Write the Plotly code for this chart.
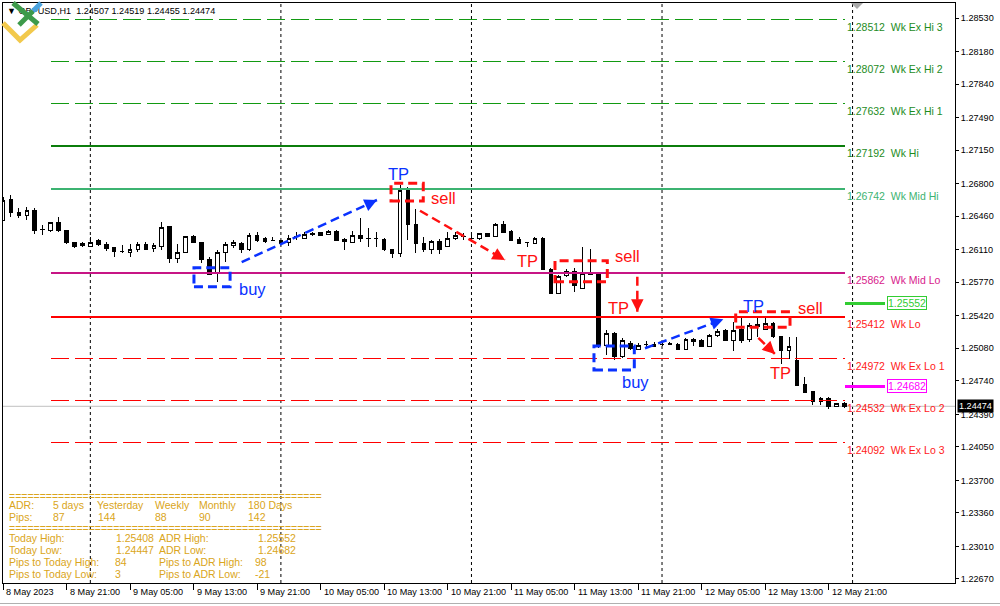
import math
import pandas as pd
import plotly.graph_objects as go

# ---------------- DATA ----------------
bar_times = pd.date_range("2023-05-08 13:00", periods=107, freq="h")

open_ = [1.26420, 1.26639, 1.26503, 1.26467, 1.26524, 1.26326, 1.26310, 1.26399, 1.26315, 1.26187,
         1.26151, 1.26141, 1.26211, 1.26169, 1.26131, 1.26091, 1.26079, 1.26114, 1.26169, 1.26124,
         1.26141, 1.26350, 1.26020, 1.26083, 1.26253, 1.26187, 1.26012, 1.25863, 1.26083, 1.26151,
         1.26176, 1.26107, 1.26263, 1.26228, 1.26204, 1.26204, 1.26180, 1.26253, 1.26228, 1.26270,
         1.26287, 1.26270, 1.26305, 1.26221, 1.26187, 1.26263, 1.26228, 1.26228, 1.26221, 1.26107,
         1.26072, 1.26733, 1.26375, 1.26176, 1.26114, 1.26200, 1.26141, 1.26228, 1.26253, 1.26228,
         1.26228, 1.26274, 1.26253, 1.26368, 1.26298, 1.26221, 1.26187, 1.26176, 1.26228, 1.25905,
         1.25654, 1.25838, 1.25887, 1.25707, 1.25856, 1.25856, 1.25114, 1.25236, 1.24992, 1.25132,
         1.25069, 1.25124, 1.25124, 1.25124, 1.25124, 1.25124, 1.25069, 1.25173, 1.25166, 1.25096,
         1.25218, 1.25264, 1.25166, 1.25278, 1.25173, 1.25330, 1.25281, 1.25341, 1.25200, 1.25054,
         1.24957, 1.24703, 1.24626, 1.24522, 1.24557, 1.24477, 1.24507]
high = [1.26660, 1.26681, 1.26545, 1.26556, 1.26545, 1.26368, 1.26402, 1.26448, 1.26320, 1.26193,
        1.26193, 1.26245, 1.26218, 1.26187, 1.26141, 1.26159, 1.26166, 1.26193, 1.26193, 1.26176,
        1.26402, 1.26361, 1.26166, 1.26258, 1.26263, 1.26193, 1.26037, 1.26107, 1.26193, 1.26211,
        1.26193, 1.26281, 1.26298, 1.26239, 1.26245, 1.26211, 1.26263, 1.26290, 1.26298, 1.26291,
        1.26298, 1.26315, 1.26315, 1.26235, 1.26305, 1.26444, 1.26333, 1.26298, 1.26228, 1.26117,
        1.26786, 1.26768, 1.26532, 1.26245, 1.26211, 1.26218, 1.26298, 1.26298, 1.26281, 1.26263,
        1.26281, 1.26281, 1.26385, 1.26410, 1.26315, 1.26245, 1.26193, 1.26239, 1.26239, 1.25915,
        1.25846, 1.25905, 1.25922, 1.26141, 1.26117, 1.25863, 1.25271, 1.25253, 1.25184, 1.25159,
        1.25132, 1.25159, 1.25148, 1.25148, 1.25145, 1.25132, 1.25184, 1.25190, 1.25173, 1.25226,
        1.25278, 1.25278, 1.25358, 1.25408, 1.25347, 1.25405, 1.25404, 1.25358, 1.25208, 1.25200,
        1.25200, 1.24783, 1.24634, 1.24574, 1.24574, 1.24511, 1.24519]
low = [1.26410, 1.26451, 1.26441, 1.26420, 1.26274, 1.26263, 1.26298, 1.26298, 1.26166, 1.26124,
       1.26141, 1.26134, 1.26148, 1.26099, 1.26037, 1.26072, 1.26037, 1.26089, 1.26107, 1.26089,
       1.26107, 1.25968, 1.25968, 1.26079, 1.26176, 1.25968, 1.25845, 1.25775, 1.25984, 1.26124,
       1.26072, 1.26099, 1.26193, 1.26183, 1.26200, 1.26169, 1.26148, 1.26211, 1.26221, 1.26253,
       1.26256, 1.26263, 1.26204, 1.26107, 1.26176, 1.26193, 1.26141, 1.26141, 1.26096, 1.26020,
       1.26037, 1.26211, 1.26072, 1.26089, 1.26061, 1.26061, 1.26134, 1.26211, 1.26211, 1.26193,
       1.26211, 1.26239, 1.26245, 1.26281, 1.26204, 1.26166, 1.26141, 1.26169, 1.25898, 1.25650,
       1.25650, 1.25828, 1.25671, 1.25700, 1.25845, 1.25080, 1.25010, 1.24957, 1.24975, 1.25062,
       1.25062, 1.25090, 1.25090, 1.25103, 1.25114, 1.25066, 1.25062, 1.25103, 1.25096, 1.25090,
       1.25200, 1.25159, 1.25051, 1.25132, 1.25148, 1.25200, 1.25271, 1.25184, 1.24916, 1.24965,
       1.24693, 1.24609, 1.24487, 1.24487, 1.24447, 1.24470, 1.24455]
close = [1.26629, 1.26503, 1.26467, 1.26524, 1.26315, 1.26320, 1.26392, 1.26310, 1.26187, 1.26148,
         1.26176, 1.26187, 1.26166, 1.26124, 1.26096, 1.26089, 1.26117, 1.26166, 1.26117, 1.26151,
         1.26344, 1.26020, 1.26083, 1.26253, 1.26187, 1.26012, 1.25856, 1.26083, 1.26159, 1.26183,
         1.26107, 1.26263, 1.26211, 1.26193, 1.26203, 1.26176, 1.26227, 1.26248, 1.26270, 1.26274,
         1.26263, 1.26305, 1.26211, 1.26193, 1.26263, 1.26228, 1.26227, 1.26231, 1.26107, 1.26072,
         1.26733, 1.26368, 1.26176, 1.26107, 1.26193, 1.26114, 1.26228, 1.26263, 1.26252, 1.26227,
         1.26274, 1.26245, 1.26368, 1.26287, 1.26211, 1.26176, 1.26186, 1.26228, 1.25905, 1.25654,
         1.25828, 1.25880, 1.25731, 1.25863, 1.25853, 1.25114, 1.25236, 1.24992, 1.25166, 1.25080,
         1.25114, 1.25123, 1.25103, 1.25123, 1.25129, 1.25069, 1.25173, 1.25148, 1.25103, 1.25211,
         1.25253, 1.25166, 1.25271, 1.25166, 1.25323, 1.25305, 1.25341, 1.25200, 1.25054, 1.25103,
         1.24696, 1.24616, 1.24529, 1.24557, 1.24470, 1.24505, 1.24474]

x_tick_idx = [0, 8, 16, 24, 32, 40, 48, 56, 64, 72, 80, 88, 96, 104]
x_tick_labels = ["8 May 2023", "8 May 21:00", "9 May 05:00", "9 May 13:00", "9 May 21:00",
                 "10 May 05:00", "10 May 13:00", "10 May 21:00", "11 May 05:00", "11 May 13:00",
                 "11 May 21:00", "12 May 05:00", "12 May 13:00", "12 May 21:00"]
y_tick_vals = [1.28530, 1.28180, 1.27840, 1.27490, 1.27150, 1.26800, 1.26460, 1.26110, 1.25770,
               1.25420, 1.25080, 1.24740, 1.24390, 1.24050, 1.23700, 1.23360, 1.23010, 1.22670]

level_values = [1.28512, 1.28072, 1.27632, 1.27192, 1.26742, 1.25862, 1.25412, 1.24972, 1.24532, 1.24092]
level_names = ["Wk Ex Hi 3", "Wk Ex Hi 2", "Wk Ex Hi 1", "Wk Hi", "Wk Mid Hi",
               "Wk Mid Lo", "Wk Lo", "Wk Ex Lo 1", "Wk Ex Lo 2", "Wk Ex Lo 3"]
level_start_idx = 6
level_end_idx = 106

adr_high = 1.25552
adr_low = 1.24682
adr_headers = ["5 days", "Yesterday", "Weekly", "Monthly", "180 Days"]
adr_pips = ["87", "144", "88", "90", "142"]
today_high = 1.25408
today_low = 1.24447
pips_to_today_high = 84
pips_to_today_low = 3
pips_to_adr_high = 98
pips_to_adr_low = -21

# trade markup (bar index, price)
markup_boxes = [(24.05, 28.6, 1.25723, 1.25922, "blue"), (48.87, 52.93, 1.26618, 1.26803, "red"),
                (69.52, 76.11, 1.25776, 1.25995, "red"), (74.43, 79.51, 1.24853, 1.25104, "blue"),
                (92.28, 99.12, 1.25299, 1.25462, "red")]
markup_arrows = [(30.06, 1.25981, 47.1, 1.26629, "blue"), (52.52, 1.26517, 63.22, 1.26002, "red"),
                 (79.89, 1.25828, 79.89, 1.25462, "red"), (80.86, 1.25080, 90.72, 1.25383, "blue"),
                 (95.13, 1.25189, 97.23, 1.25020, "red")]
markup_texts = [("buy", 31.36, 1.25699, "blue"), ("TP", 49.75, 1.26900, "blue"), ("sell", 55.42, 1.26650, "red"),
                ("TP", 66.12, 1.25992, "red"), ("sell", 78.59, 1.26044, "red"), ("TP", 77.58, 1.25501, "red"),
                ("buy", 79.72, 1.24728, "blue"), ("TP", 94.46, 1.25525, "blue"), ("sell", 101.76, 1.25501, "red"),
                ("TP", 97.98, 1.24822, "red")]

# ---------------- STYLE / LAYOUT ----------------
W, H = 1000, 606
ML, MR, MT, MB = 3, 45, 3, 23
PW, PH = W - ML - MR, H - MT - MB
X_RANGE = [0, 119.9]
Y_RANGE = [1.22628, 1.28687]
PXB = PW / (X_RANGE[1] - X_RANGE[0])
PXP = PH / (Y_RANGE[1] - Y_RANGE[0])
FONT = "Liberation Sans, Arial, sans-serif"
SMALL = 9.1
GOLD = "#DAA520"
MK_COL = {"blue": "#0a32ff", "red": "#ff1010"}
level_colors = ["#129a12", "#129a12", "#129a12", "#0b7d0b", "#3cb371",
                "#c71585", "#ff0000", "#ff0000", "#ff0000", "#ff0000"]
level_text_colors = ["#1e8c1e", "#1e8c1e", "#1e8c1e", "#1e8c1e", "#3cb371",
                     "#d81b8c", "#ff1a1a", "#ff1a1a", "#ff1a1a", "#ff1a1a"]
level_dash = ["18px,6px"] * 3 + ["solid"] * 4 + ["18px,6px"] * 3
level_width = [1, 1, 1, 2, 2, 2, 2, 1, 1, 1]


def PX(px):
    return (px - ML) / PW


def PY(py):
    return (H - MB - py) / PH


idx = list(range(len(bar_times)))
fig = go.Figure()

fig.add_trace(go.Candlestick(
    x=idx, open=open_, high=high, low=low, close=close,
    increasing=dict(line=dict(color="black", width=1), fillcolor="white"),
    decreasing=dict(line=dict(color="black", width=1), fillcolor="black"),
    whiskerwidth=0, hoverinfo="skip", showlegend=False))

# level lines
for v, c, d, w in zip(level_values, level_colors, level_dash, level_width):
    fig.add_trace(go.Scatter(x=[level_start_idx, level_end_idx], y=[v, v], mode="lines",
                             line=dict(color=c, width=w, dash=d), hoverinfo="skip", showlegend=False))

# ADR markers
last = idx[-1]
for v, c in [(adr_high, "#32cd32"), (adr_low, "#ff00ff")]:
    fig.add_trace(go.Scatter(x=[last, last + 5.1], y=[v, v], mode="lines",
                             line=dict(color=c, width=3), hoverinfo="skip", showlegend=False))

# chart title (trace so the logo sits above it)
title = "\u25BC GBPUSD,H1\u00a0\u00a0{:.5f} {:.5f} {:.5f} {:.5f}".format(open_[-1], high[-1], low[-1], close[-1])
fig.add_trace(go.Scatter(x=[X_RANGE[0] + 4 / PXB], y=[Y_RANGE[1] - 9 / PXP], mode="text", text=[title],
                         textposition="middle right", textfont=dict(family=FONT, size=SMALL, color="black"),
                         hoverinfo="skip", showlegend=False))

shapes = []
annotations = []

# day separators
day_starts = [i for i, t in enumerate(bar_times) if t.hour == 0] + [len(bar_times)]
for d in day_starts:
    shapes.append(dict(type="line", xref="x", yref="paper", x0=d, x1=d, y0=0, y1=1,
                       line=dict(color="black", width=1, dash="3px,3px"), layer="below"))

# current price line
shapes.append(dict(type="line", xref="paper", yref="y", x0=0, x1=1, y0=close[-1], y1=close[-1],
                   line=dict(color="#c0c0c0", width=1), layer="below"))

# level labels
for v, n, c in zip(level_values, level_names, level_text_colors):
    annotations.append(dict(x=level_end_idx, y=v, xref="x", yref="y", xanchor="left", yanchor="top",
                            yshift=1, text=f"{v:.5f}\u00a0\u00a0{n}", showarrow=False,
                            font=dict(family=FONT, size=10.5, color=c)))

# ADR labels
for v, c in [(adr_high, "#32cd32"), (adr_low, "#ff00ff")]:
    annotations.append(dict(x=last + 5.3, y=v, xref="x", yref="y", xanchor="left", yanchor="middle",
                            text=f"{v:.5f}", showarrow=False, bgcolor="white", bordercolor=c,
                            borderwidth=1, borderpad=0, font=dict(family=FONT, size=10.5, color=c)))

# current price box
annotations.append(dict(x=PX(957), y=close[-1], xref="paper", yref="y", xanchor="left", yanchor="middle",
                        text=f"{close[-1]:.5f}", showarrow=False, bgcolor="black", borderpad=1,
                        font=dict(family=FONT, size=SMALL, color="white")))

# x tick labels
for i, lab in zip(x_tick_idx, x_tick_labels):
    annotations.append(dict(x=i, y=0, xref="x", yref="paper", xanchor="left", yanchor="top",
                            xshift=1, yshift=-2, text=lab, showarrow=False,
                            font=dict(family=FONT, size=SMALL, color="black")))

# trade markup
for x0, x1, y0, y1, c in markup_boxes:
    shapes.append(dict(type="rect", xref="x", yref="y", x0=x0, x1=x1, y0=y0, y1=y1,
                       line=dict(color=MK_COL[c], width=3, dash="9px,5px"), fillcolor="rgba(0,0,0,0)"))
for x0, y0, x1, y1, c in markup_arrows:
    shapes.append(dict(type="line", xref="x", yref="y", x0=x0, y0=y0, x1=x1, y1=y1,
                       line=dict(color=MK_COL[c], width=2.5, dash="9px,5px")))
    dx = (x1 - x0) * PXB
    dy = -(y1 - y0) * PXP
    L = math.hypot(dx, dy)
    ax, ay = -dx / L * 12, -dy / L * 12
    annotations.append(dict(x=x1, y=y1, xref="x", yref="y", ax=ax, ay=ay, text="", showarrow=True,
                            arrowhead=2, arrowsize=1, arrowwidth=2.5, arrowcolor=MK_COL[c], standoff=0))
for t, x, y, c in markup_texts:
    annotations.append(dict(x=x, y=y, xref="x", yref="y", xanchor="center", yanchor="middle", text=t,
                            showarrow=False, font=dict(family=FONT, size=16.5, color=MK_COL[c])))

# info panel
def info(px, py, text):
    annotations.append(dict(x=PX(px), y=PY(py), xref="paper", yref="paper", xanchor="left",
                            yanchor="middle", text=text, showarrow=False,
                            font=dict(family=FONT, size=10.5, color=GOLD)))

eq = "=" * 51
info(7, 495.7, eq)
info(7, 505, "ADR:")
for px, t in zip([51, 95, 153, 197, 246], adr_headers):
    info(px, 505, t)
info(7, 516.7, "Pips:")
for px, t in zip([51, 96, 153, 197, 246], adr_pips):
    info(px, 516.7, t)
info(7, 527.7, eq)
info(7, 538.3, "Today High:")
info(114, 538.3, f"{today_high:.5f}")
info(157, 538.3, "ADR High:")
info(256, 538.3, f"{adr_high:.5f}")
info(7, 550, "Today Low:")
info(114, 550, f"{today_low:.5f}")
info(157, 550, "ADR Low:")
info(256, 550, f"{adr_low:.5f}")
info(7, 562, "Pips to Today High:")
info(113, 562, str(pips_to_today_high))
info(157, 562, "Pips to ADR High:")
info(253, 562, str(pips_to_adr_high))
info(7, 573.7, "Pips to Today Low:")
info(113, 573.7, str(pips_to_today_low))
info(157, 573.7, "Pips to ADR Low:")
info(253, 573.7, str(pips_to_adr_low))

# chart-shift marker
shapes.append(dict(type="path", xref="paper", yref="paper",
                   path=f"M{PX(851)},{PY(3)} L{PX(863)},{PY(3)} L{PX(857)},{PY(9)} Z",
                   fillcolor="#a8a8a8", line=dict(width=0)))

# window bottom border
shapes.append(dict(type="line", xref="paper", yref="paper", x0=PX(0), x1=PX(1000), y0=PY(603.5), y1=PY(603.5),
                   line=dict(color="#b0b0b0", width=1)))

# logo
def seg(pts, color, w=5):
    p = "M" + " L".join(f"{PX(a)},{PY(b)}" for a, b in pts)
    shapes.append(dict(type="path", xref="paper", yref="paper", path=p, line=dict(color=color, width=w)))

seg([(3, 23), (20, 40), (37, 25)], "#f2c94c")
seg([(13, 3), (38, 24)], "#3d9a4a")
seg([(19, 25), (33, 11)], "#3d9a4a")
seg([(33, 11), (41, 3)], "#4aa3df")

fig.update_layout(
    width=W, height=H, autosize=False,
    margin=dict(l=ML, r=MR, t=MT, b=MB, pad=0),
    paper_bgcolor="white", plot_bgcolor="white",
    showlegend=False, hovermode=False, boxgap=0.35,
    shapes=shapes, annotations=annotations,
    font=dict(family=FONT, size=SMALL, color="black"),
    xaxis=dict(range=X_RANGE, rangeslider=dict(visible=False), showgrid=False, zeroline=False,
               tickmode="array", tickvals=x_tick_idx, ticktext=[""] * len(x_tick_idx), showticklabels=False,
               ticks="outside", ticklen=6, tickcolor="black", tickwidth=1,
               showline=True, linecolor="black", linewidth=1, mirror=True, automargin=False, fixedrange=True),
    yaxis=dict(range=Y_RANGE, side="right", showgrid=False, zeroline=False,
               tickmode="array", tickvals=y_tick_vals, ticktext=[f"{v:.5f}" for v in y_tick_vals],
               ticks="outside", ticklen=3, tickcolor="black", tickwidth=1,
               tickfont=dict(family=FONT, size=SMALL, color="black"),
               showline=True, linecolor="black", linewidth=1, mirror=True, automargin=False, fixedrange=True),
)

post = (
    "document.body.style.margin='0';document.body.style.padding='0';"
    "document.body.style.overflow='hidden';"
    "document.querySelectorAll('.boxlayer path, .scatterlayer .js-line').forEach("
    "function(p){p.style.shapeRendering='crispEdges';});"
)
fig.write_html("out.html", config={"displayModeBar": False}, post_script=post)
